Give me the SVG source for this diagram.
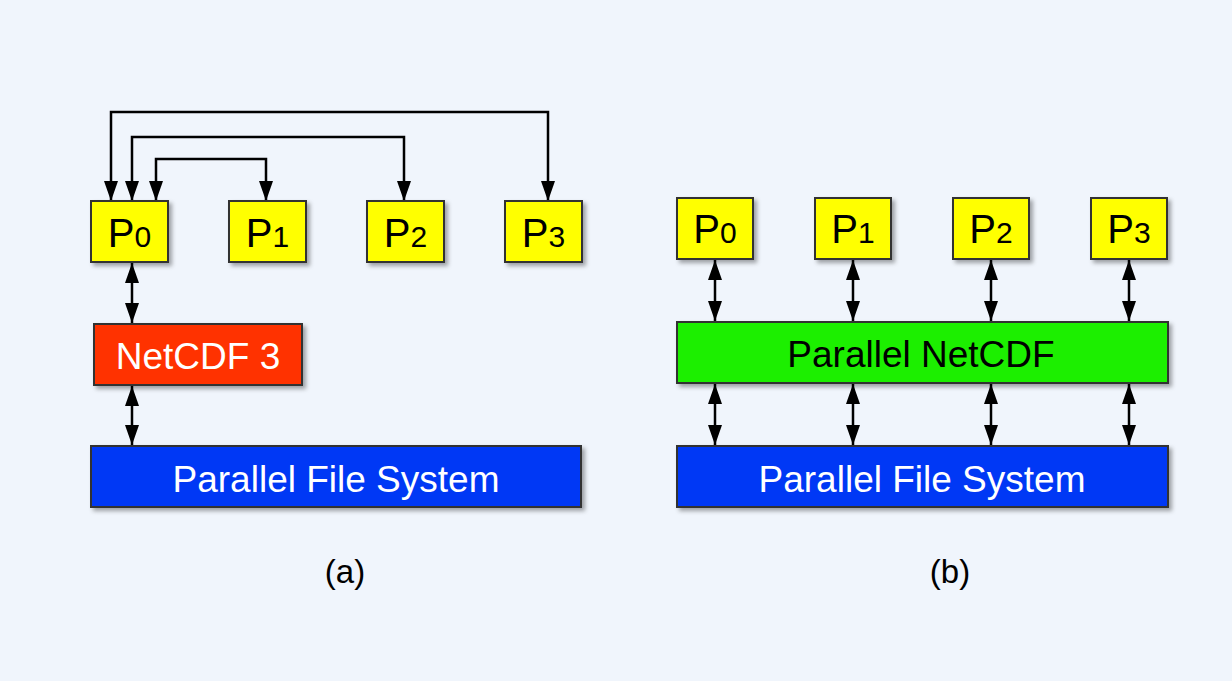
<svg xmlns="http://www.w3.org/2000/svg" width="1232" height="681" viewBox="0 0 1232 681">
<style>
.box{stroke:#333;stroke-width:2;filter:url(#sh)}
.p{fill:#ffff00}
.t{font-family:"Liberation Sans",Arial,sans-serif;text-anchor:middle}
.big{font-size:37px}
.pl{font-size:40px}
.sub{font-size:30px}
.con{fill:none;stroke:#000;stroke-width:2.5;marker-start:url(#ah);marker-end:url(#ah)}
</style>
<defs>
<filter id="sh" x="-10%" y="-10%" width="130%" height="140%">
<feDropShadow dx="3" dy="3" stdDeviation="2" flood-color="#000" flood-opacity="0.35"/>
</filter>
<marker id="ah" markerUnits="userSpaceOnUse" markerWidth="20" markerHeight="14" refX="20" refY="7" orient="auto-start-reverse">
<path d="M0,0 L20,7 L0,14 z" fill="#000"/>
</marker>
</defs>
<rect width="1232" height="681" fill="#f0f5fc"/>

<g id="connectors">
<path class="con" d="M548,201 V112 H111 V201"/>
<path class="con" d="M404,201 V137 H132 V201"/>
<path class="con" d="M266,201 V159 H156 V201"/>
<path class="con" d="M132,263 V323"/>
<path class="con" d="M132,386 V445"/>
<path class="con" d="M715,260 V321"/>
<path class="con" d="M853,260 V321"/>
<path class="con" d="M991,260 V321"/>
<path class="con" d="M1129,260 V321"/>
<path class="con" d="M715,384 V445"/>
<path class="con" d="M853,384 V445"/>
<path class="con" d="M991,384 V445"/>
<path class="con" d="M1129,384 V445"/>
</g>

<g id="a-p0"><rect class="box p" x="91" y="201" width="77" height="61"/><text class="t" x="129.5" y="247"><tspan class="pl">P</tspan><tspan class="sub">0</tspan></text></g>
<g id="a-p1"><rect class="box p" x="229" y="201" width="77" height="61"/><text class="t" x="267.5" y="247"><tspan class="pl">P</tspan><tspan class="sub">1</tspan></text></g>
<g id="a-p2"><rect class="box p" x="367" y="201" width="77" height="61"/><text class="t" x="405.5" y="247"><tspan class="pl">P</tspan><tspan class="sub">2</tspan></text></g>
<g id="a-p3"><rect class="box p" x="505" y="201" width="77" height="61"/><text class="t" x="543.5" y="247"><tspan class="pl">P</tspan><tspan class="sub">3</tspan></text></g>
<g id="a-netcdf3"><rect class="box" x="94" y="324" width="208" height="61" fill="#ff3300"/><text class="t big" x="198" y="369" fill="#fff">NetCDF 3</text></g>
<g id="a-pfs"><rect class="box" x="91" y="446" width="490" height="61" fill="#0037f5"/><text class="t big" x="336" y="492" fill="#fff">Parallel File System</text></g>
<text class="t" x="345" y="583" font-size="33">(a)</text>

<g id="b-p0"><rect class="box p" x="677" y="198" width="76" height="61"/><text class="t" x="715" y="243"><tspan class="pl">P</tspan><tspan class="sub">0</tspan></text></g>
<g id="b-p1"><rect class="box p" x="815" y="198" width="76" height="61"/><text class="t" x="853" y="243"><tspan class="pl">P</tspan><tspan class="sub">1</tspan></text></g>
<g id="b-p2"><rect class="box p" x="953" y="198" width="76" height="61"/><text class="t" x="991" y="243"><tspan class="pl">P</tspan><tspan class="sub">2</tspan></text></g>
<g id="b-p3"><rect class="box p" x="1091" y="198" width="76" height="61"/><text class="t" x="1129" y="243"><tspan class="pl">P</tspan><tspan class="sub">3</tspan></text></g>
<g id="b-pnetcdf"><rect class="box" x="677" y="322" width="491" height="61" fill="#1aef00"/><text class="t big" x="921" y="367" fill="#000">Parallel NetCDF</text></g>
<g id="b-pfs"><rect class="box" x="677" y="446" width="491" height="61" fill="#0037f5"/><text class="t big" x="922" y="492" fill="#fff">Parallel File System</text></g>
<text class="t" x="950" y="583" font-size="33">(b)</text>
</svg>
